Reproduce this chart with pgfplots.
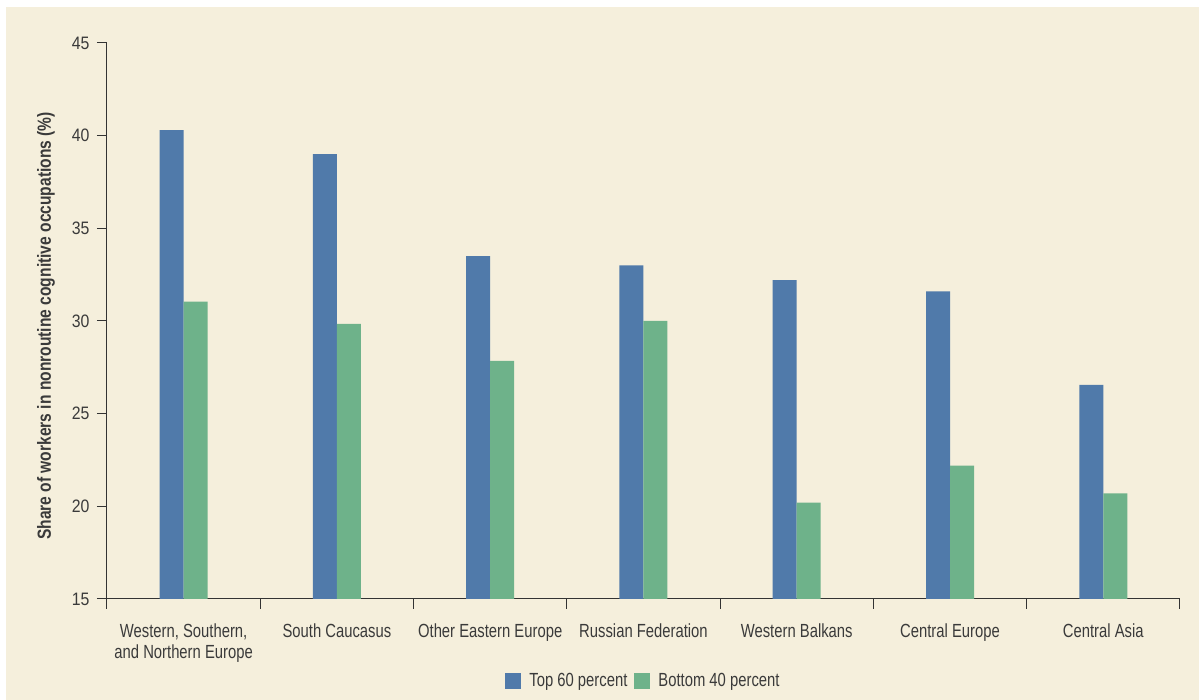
\documentclass[border=0pt]{standalone}
\usepackage{pgfplots}
\pgfplotsset{compat=1.18}
\usepackage{fontspec}
\setmainfont[FakeStretch=0.78]{Liberation Sans}
\newfontfamily\tickfont[FakeStretch=0.88]{Liberation Sans}
\newfontfamily\ylabfont[FakeStretch=0.82]{Liberation Sans Bold}
\definecolor{bg}{HTML}{F5EFDC}
\definecolor{cblue}{HTML}{507AAA}
\definecolor{cgreen}{HTML}{6EB28A}
\definecolor{txt}{HTML}{3A3A3A}
\definecolor{axl}{HTML}{333333}
\begin{document}
\begin{tikzpicture}[x=1pt,y=1pt]
\fill[white] (0,0) rectangle (1199,700);
\fill[bg] (6,0) rectangle (1199,693);
\begin{axis}[
  at={(107pt,101pt)}, anchor=south west,
  scale only axis, width=1073pt, height=556pt,
  xmin=-0.5, xmax=6.5, ymin=15, ymax=45,
  axis x line*=bottom, axis y line*=left,
  axis line style={axl, line width=1pt},
  every tick/.style={axl, line width=1pt},
  tick align=outside, major tick length=10pt,
  ytick={15,20,25,30,35,40,45},
  xtick={-0.5,0.5,1.5,2.5,3.5,4.5,5.5,6.5},
  xticklabels={},
  extra x ticks={0,1,2,3,4,5,6},
  extra x tick labels={{Western, Southern,\\and Northern Europe},South Caucasus,Other Eastern Europe,Russian Federation,Western Balkans,Central Europe,Central Asia},
  extra x tick style={major tick length=0pt, tick label style={yshift=-21pt}},
  xticklabel style={align=center, font=\fontsize{19}{21}\selectfont, text=txt},
  yticklabel style={font=\tickfont\fontsize{18}{20}\selectfont, text=txt, xshift=-4pt},
  /pgf/number format/assume math mode=true,
  ylabel={Share of workers in nonroutine cognitive occupations (\%)},
  ylabel style={font=\ylabfont\fontsize{19}{20}\selectfont, text=txt, at={(axis description cs:-0.0578,0.5)}, anchor=center, xshift=-5pt, yshift=-1pt},
  ybar=0pt, bar width=24pt,
  legend style={at={(0.5,0)}, anchor=center, yshift=-82pt, draw=none, fill=none,
    font=\fontsize{19}{20}\selectfont, text=txt, legend columns=2,
    /tikz/every even column/.append style={column sep=5pt}},
  legend image code/.code={\fill[#1] (0pt,-8pt) rectangle (16pt,8pt); \path (22pt,0pt);},
]
\addplot[fill=cblue, draw=none] coordinates {(0,40.3) (1,39.0) (2,33.5) (3,33.0) (4,32.2) (5,31.6) (6,26.55)};
\addplot[fill=cgreen, draw=none] coordinates {(0,31.05) (1,29.85) (2,27.85) (3,30.0) (4,20.2) (5,22.2) (6,20.7)};
\legend{Top 60 percent, Bottom 40 percent}
\end{axis}
\end{tikzpicture}
\end{document}
